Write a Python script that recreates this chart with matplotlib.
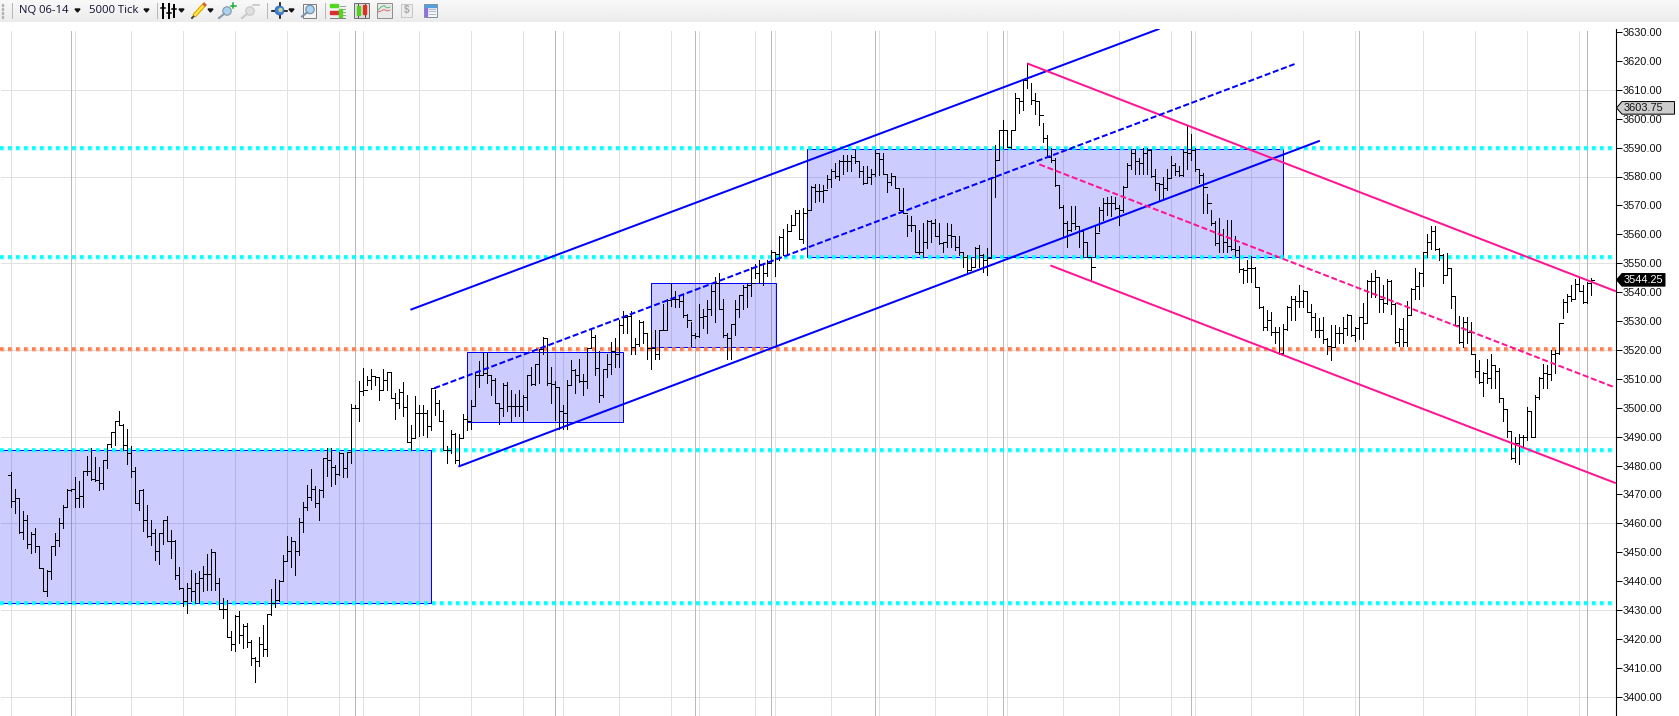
import numpy as np
import matplotlib
matplotlib.use('Agg')
import matplotlib.pyplot as plt
from matplotlib.patches import Rectangle, Polygon, Circle

# bar values, one bar every 4 px, 10 per row
highs = [
    3477.75,3472,3468.75,3464.25,3463,3457,3458.5,3452.25,3444.5,3443.75,
    3452.25,3456.75,3462,3466.25,3471.75,3472,3476,3474.5,3478.25,3483.25,
    3486,3483,3479.5,3482,3487.5,3491.75,3495.25,3498.75,3494.5,3492.75,
    3486.75,3479.5,3471.5,3471.75,3466.25,3461,3458,3456.5,3461,3462.5,
    3457.75,3454.25,3445,3437.5,3439.25,3444,3442.75,3443.5,3445.25,3449.5,
    3451,3450,3441,3434,3433.5,3422.75,3428.25,3429.5,3425.25,3425.5,
    3419.5,3413.75,3420.75,3424.75,3428.75,3437.25,3440.75,3440.5,3449,3455.5,
    3455.25,3454,3462,3467.5,3473.25,3478.75,3472.75,3472,3482.75,3486,
    3486,3480.25,3484.75,3484.25,3484.75,3501.25,3501,3509.25,3513.75,3511,
    3513.25,3511,3510.75,3513.25,3512.5,3512.25,3505,3506.5,3509,3504.5,
    3494,3504,3501,3501,3499.25,3506.75,3506,3502.75,3499.25,3486.75,
    3492.25,3491.25,3491,3497.75,3497,3502.75,3512.5,3516.25,3519,3519,
    3511.25,3510.25,3501.75,3508.5,3508.75,3506.25,3504.75,3506.25,3504.5,3511.25,
    3514.25,3515.25,3520.25,3524.5,3524.25,3514.25,3509.25,3507.25,3501,3509.5,
    3516.5,3513.5,3517,3511.75,3520.5,3526.75,3525,3519.5,3513.5,3518.75,
    3522.75,3524,3530.25,3533.5,3532,3533.5,3524.25,3530.25,3530,3526,
    3526.75,3526.75,3526.75,3536,3537.5,3543,3540.25,3539,3539,3532.5,
    3529.75,3525.75,3536,3534.25,3537.25,3542.5,3545.25,3546.75,3537.75,3525.75,
    3529,3537.25,3539,3542.5,3542.75,3548.75,3549.75,3551.25,3550,3551,
    3554.5,3554,3559.25,3562,3563.5,3566.75,3568.5,3568.5,3569,3569,
    3576.75,3577.5,3577.5,3577,3580.5,3582.75,3584.75,3585.75,3587.5,3587.5,
    3587.5,3589,3585.25,3583.5,3583.5,3582.75,3589,3588,3588.25,3581,
    3581.25,3580.25,3576,3576,3566.75,3566.25,3563.25,3561.5,3563.75,3565,
    3565,3565.25,3563.75,3557.5,3563.75,3563.5,3559.5,3559.25,3554,3552.75,
    3552.25,3555.75,3556.25,3553.25,3555.25,3580,3591,3596.25,3599.5,3596.25,
    3596,3608.75,3607,3613.5,3619.25,3612.5,3608.75,3606,3598.5,3594.5,
    3589.75,3586.25,3577,3570.25,3564.5,3569.75,3569.75,3562.75,3561.75,3557.5,
    3552.25,3562.75,3569.5,3572.5,3573,3573.25,3573,3570.25,3576.75,3584.5,
    3589.5,3589.5,3586.25,3589.75,3589.75,3589.25,3582.5,3577.75,3580,3582.75,
    3587,3584.5,3583.5,3589.25,3597.5,3594.75,3589.75,3582.75,3581.25,3574,
    3568.5,3564.5,3565.5,3561.75,3565,3565,3559.5,3556,3548.5,3551.25,
    3552.5,3548.75,3541.75,3535.25,3533.75,3533.25,3528,3528,3529,3535.25,
    3538.75,3538.75,3542.5,3540.75,3540.25,3536,3532.75,3531,3531.25,3524,
    3528.75,3528.75,3528,3531.25,3532.5,3532,3528,3531.5,3536.25,3544.25,
    3546.75,3547.5,3545.25,3542.5,3544.5,3544.25,3536.25,3527.5,3531,3536.75,
    3541.25,3548.25,3547,3554,3560.25,3562.75,3562.75,3555.25,3553.25,3553.5,
    3548.5,3538.75,3531.75,3531.25,3531.25,3529.5,3518.75,3516.5,3512.25,3516.75,
    3518.5,3514.75,3513.75,3503.25,3499.5,3492,3490,3491,3490.5,3500.25,
    3498.75,3504.5,3510.75,3515.25,3514.75,3520,3520,3529.25,3537.75,3539.5,
    3542.5,3544.5,3544.75,3542.5,3543.5,3544.75,
]
lows = [
    3465.5,3463.5,3456.5,3454.5,3451.5,3449.75,3450,3444.5,3436.5,3434.75,
    3440.75,3449,3452,3458.5,3465.75,3471.25,3465.75,3465.5,3465.5,3476.75,
    3475,3474.75,3471.5,3472,3479,3486.5,3487,3494,3485.5,3480.5,
    3476,3467,3464.5,3457.5,3455.25,3452.5,3447.25,3445.75,3452.75,3453.75,
    3448,3440.75,3437.25,3431.5,3429,3433,3432.5,3432.5,3436.5,3437,
    3436.75,3436.75,3430.25,3427.25,3420.5,3416,3415.75,3418.75,3417,3417.25,
    3411,3405,3410.75,3414,3414,3428.25,3431,3433,3440,3447,
    3445,3442,3449,3457,3464.75,3468,3465.75,3461,3469,3476.5,
    3473,3473.75,3476.75,3476,3476,3481,3499.75,3495.5,3504.25,3507.75,
    3506.5,3507.75,3502.5,3506.25,3506,3503.25,3496.25,3499.75,3497.25,3488,
    3485.5,3490,3490.25,3490.5,3490,3492.25,3497.5,3495.25,3485.5,3481,
    3484.25,3481,3479.75,3490,3492.25,3492.5,3500.5,3507.25,3511.25,3508.5,
    3504.5,3501.5,3494.5,3497,3499,3495.25,3497,3497,3495.25,3499.25,
    3507.75,3507.75,3508.5,3518.75,3507.75,3501.5,3495.75,3492.75,3492.75,3492.75,
    3507.75,3505,3509,3504.5,3506.75,3520.5,3511.25,3502,3503.75,3510.75,
    3511.75,3514.25,3514.25,3526,3525.75,3518.75,3518.75,3521.25,3522.25,3516.75,
    3513.25,3516.75,3516.75,3527,3527,3535.25,3535,3535,3531.5,3528,
    3521.25,3524,3524.5,3527.5,3526,3532,3529.5,3534.25,3524.5,3517,
    3517,3525,3531.5,3534.25,3535,3538.5,3544.75,3543.5,3542.5,3545.5,
    3550,3545.5,3551,3552.75,3552.75,3561,3563.25,3558.5,3557,3566,
    3568.5,3571.25,3571.5,3571.25,3576,3576.5,3579.5,3578.75,3581,3581.75,
    3581.75,3584.5,3580,3577.5,3577.75,3577.5,3580.25,3580.5,3581,3574.5,
    3577,3576,3568.25,3567.25,3559.25,3561,3554,3553.25,3552,3555.25,
    3557.5,3559.25,3556.75,3553.75,3555.75,3555.75,3554.5,3552.75,3548.75,3547,
    3547.75,3548.75,3548.75,3547,3546,3551.75,3573,3585.75,3589.75,3590.25,
    3589.75,3596,3602,3603,3610.5,3605,3601.5,3597.75,3592,3586.75,
    3585,3576.75,3569,3559.25,3555.75,3561,3562,3555.75,3552.25,3552,
    3544.25,3552.25,3561,3565,3566.75,3566.5,3568.75,3563.25,3567.75,3576.5,
    3582.75,3581,3580.75,3580.75,3581,3580,3575.25,3572,3572,3575.25,
    3580,3580.5,3580.25,3580.25,3582.75,3585.75,3581.75,3577.75,3567.5,3567.25,
    3563.25,3556.25,3553.75,3554,3554,3554.5,3552.5,3547,3543.25,3543.5,
    3543.5,3541.75,3534.5,3527,3527,3525.25,3522.5,3518.75,3518.5,3527,
    3530.5,3530.25,3535,3534.75,3533.25,3527,3524.5,3524.5,3522.5,3518.75,
    3516.5,3521.25,3522.5,3522.5,3525.25,3524.75,3523.25,3523.75,3523.75,3529.25,
    3538.25,3538.25,3533,3533.25,3536,3532.5,3522.5,3521.25,3521.25,3521.25,
    3532,3537.75,3537.5,3542,3552.25,3554.75,3554.5,3551,3543.25,3546,
    3534.5,3528.75,3522.5,3521,3522.25,3518.75,3510.75,3508.5,3504,3508.5,
    3506.75,3506.75,3502,3495.25,3490,3482.25,3481.25,3480.5,3486.25,3488.75,
    3489.75,3490,3503,3506.75,3506.75,3509.5,3512,3518.75,3531,3533.25,
    3536.75,3538,3540.25,3536.25,3536.25,3539,
]
closes = [
    3467.75,3468.75,3457,3461,3452.75,3456.25,3452.25,3444.5,3436.5,3443.5,
    3452.25,3454.25,3460.25,3465.5,3471.5,3471.75,3468.75,3469.5,3478.25,3478.25,
    3475.25,3475,3474,3482,3487.5,3491.75,3495.25,3494,3487,3484.25,
    3478,3467,3471.5,3461,3455.5,3456.5,3450.5,3456.5,3461,3453.75,
    3453.75,3442.25,3437.5,3433,3437.75,3436.5,3439.5,3441,3442.5,3442.5,
    3450,3439.5,3430.5,3430.25,3420.5,3418.25,3428,3421.5,3424.5,3419,
    3413.25,3412.25,3418.25,3416.5,3428.75,3432.25,3433.5,3440,3447,3450.5,
    3453.75,3450.5,3460.5,3465.5,3469,3472,3467,3471.5,3482.75,3482,
    3479.5,3477,3484.25,3479,3484.75,3500,3499.75,3505.75,3506.25,3509.75,
    3511,3510.5,3506,3509.5,3512.25,3503.5,3501.75,3505.5,3500.25,3488.25,
    3489.5,3498.25,3498.25,3498.25,3493.5,3506.75,3501.5,3495.5,3485.5,3485.5,
    3491,3481.75,3489.5,3496.25,3495.25,3500.5,3511.25,3511.25,3512,3511.25,
    3509.75,3501.75,3499.75,3507.75,3500.75,3500.75,3500.75,3500.5,3503.75,3511.25,
    3508.25,3515.25,3520.25,3524,3508.5,3508.25,3507.25,3498.75,3498,3507.75,
    3513,3511.25,3509.25,3509.25,3520.5,3524.5,3513.75,3504.5,3513.5,3515.25,
    3519.5,3518.75,3528.5,3531.5,3531.75,3521,3522,3529.75,3526,3520.5,
    3520.5,3518.75,3526.75,3527,3537.25,3537.75,3537.5,3536.75,3532,3530.25,
    3525.25,3524.75,3531.5,3531.75,3534.25,3540.25,3543,3534.25,3525,3524,
    3529,3534.25,3539,3541.75,3542.5,3543,3546.5,3549.75,3546.5,3550,
    3554,3553.25,3559,3553,3561,3563.25,3567.25,3558.5,3567.25,3568.5,
    3576.25,3575,3575,3575.25,3579,3581.75,3580.25,3585.5,3585.5,3585.25,
    3586.75,3585.25,3581.75,3577.75,3580,3581,3588.25,3586,3581,3578.25,
    3580.25,3576,3568.5,3567.5,3563.25,3563.25,3554,3554,3557.5,3564.5,
    3563.75,3559.25,3557,3557.25,3559.75,3559.25,3555.75,3554,3552.25,3547.75,
    3548.75,3555.25,3552.75,3551.25,3551.75,3580,3585.75,3596,3596,3590.25,
    3596,3607,3606,3613.5,3614.5,3606.5,3606,3601.25,3593.25,3586.75,
    3585.75,3577,3569.5,3564,3561.5,3563.75,3562.75,3561,3557.5,3552,
    3548.75,3560.5,3568.5,3570.75,3571,3570.75,3569,3568.5,3576.5,3584,
    3588,3585.25,3584.5,3588,3589.25,3580.25,3577.75,3577.5,3576,3579.5,
    3584,3581.75,3580.5,3588.5,3588,3589.25,3582.75,3580.5,3576.5,3570.75,
    3563.75,3557,3559.75,3557.5,3556,3554.75,3554.5,3548,3547.75,3548.25,
    3548.5,3541.75,3535,3528,3530.25,3526.25,3526.25,3519,3527.25,3535,
    3537.5,3537,3537,3540.25,3533.25,3531.25,3527,3527,3523.75,3521.25,
    3521,3526,3526,3527.5,3532,3525.25,3527.75,3531.25,3529.25,3544,
    3544,3545.25,3537.75,3536.25,3544,3536,3522.75,3527.25,3522.75,3532,
    3541,3542,3546.75,3553.75,3557.5,3561,3554.75,3552.75,3546,3548.5,
    3538.5,3528.75,3522.75,3529.75,3526.25,3518.75,3512.75,3508.75,3512,3510.25,
    3514.75,3512.75,3503.25,3499.5,3492,3482.75,3487.75,3490,3490,3499,
    3490,3503.75,3510.25,3512,3511.75,3518.75,3519,3529.25,3536.5,3538.75,
    3537.75,3542.75,3540.25,3536.5,3543,3544.25,
]
first_open = 3476.75

price_ticks = list(range(3400, 3631, 10))
grid_prices = [3400, 3430, 3460, 3490, 3520, 3550, 3580, 3610]
light_grid = [0, 16, 30, 43, 56, 69, 82, 88, 102, 115, 128, 138, 152, 165, 172, 186,
              191, 205, 217, 231, 244, 249, 263, 277, 290, 296, 310, 323, 336, 353,
              366, 379, 392]
dark_grid = [15, 86, 136, 171, 190, 216, 248, 295, 337, 394]

cyan_levels = [3589.75, 3552, 3485.25, 3432.25]
orange_levels = [3520.25]

# start bar, end bar, low price, high price
box_start = [-3, 114, 160, 199]
box_end = [105, 153, 191.25, 318]
box_low = [3432.25, 3495, 3521, 3552]
box_high = [3485.5, 3519.25, 3543, 3589.5]

# start bar, end bar, start price, end price
blue_lines = [(100, 286.8, 3534, 3631), (112, 326.9, 3479.75, 3592.25)]
blue_dashed = (105.75, 320.8, 3506.75, 3618.9)
pink_lines = [(254.2, 400.9, 3619, 3540.4), (260, 400.9, 3549.1, 3474)]
pink_dashed = (257, 400.9, 3584.2, 3507)

last_price = 3544.25
other_price = 3603.75

W, H = 1679, 716
PX = 72 / 100  # points per pixel
plt.rcParams['lines.scale_dashes'] = False
plt.rcParams['font.family'] = ['Liberation Sans', 'DejaVu Sans']

fig = plt.figure(figsize=(W / 100, H / 100), dpi=100, facecolor='white')
ax = fig.add_axes([0, 0, 1615.5 / W, (H - 29) / H])
ax.set_xlim((0 - 11.33) / 4, (1615.5 - 11.33) / 4)
ax.set_ylim(3630 - (716 - 32) / 2.89, 3630 + 3 / 2.89)
ymin, ymax = ax.get_ylim()

# grid
grid_top = 3630.35
ax.vlines(light_grid, ymin, grid_top, color='#E1E1E1', lw=PX, zorder=1, antialiased=False)
ax.vlines(dark_grid, ymin, grid_top, color='#B9B9B9', lw=PX, zorder=1.1, antialiased=False)
ax.hlines(grid_prices, -2.5, 400.9, color='#E1E1E1', lw=PX, zorder=1, antialiased=False)

# zones
for x0, x1, y0, y1 in zip(box_start, box_end, box_low, box_high):
    ax.add_patch(Rectangle((x0, y0), x1 - x0, y1 - y0, facecolor=(0, 0, 1, 0.2), edgecolor='none', zorder=2))
    ax.add_patch(Rectangle((x0, y0), x1 - x0, y1 - y0, facecolor='none', edgecolor='#0000FF', lw=PX, zorder=2.1))


def dotted(levels, color):
    x0, x1 = ax.get_xlim()
    x1 = 400.1
    for lev in levels:
        ax.plot([x0, x1], [lev, lev], color=color, lw=4.6 * PX, alpha=0.35, zorder=3,
                linestyle=(0.5 * PX, (4.6 * PX, 3.4 * PX)), dash_capstyle='butt')
        ax.plot([x0, x1], [lev, lev], color=color, lw=3.5 * PX, zorder=3.1,
                linestyle=(0, (3.5 * PX, 4.5 * PX)), dash_capstyle='butt')


dotted(cyan_levels, '#00FFFF')
dotted(orange_levels, '#FF7F50')

# price bars
bars = np.arange(len(highs))
opens = [first_open] + closes[:-1]
ax.vlines(bars, lows, highs, color='black', lw=PX, zorder=4, antialiased=False)
ax.hlines(opens, bars - 0.75, bars, color='black', lw=PX, zorder=4, antialiased=False)
ax.hlines(closes, bars, bars + 0.75, color='black', lw=PX, zorder=4, antialiased=False)

# channels
for x0, x1, y0, y1 in blue_lines:
    ax.plot([x0, x1], [y0, y1], color='#0000FF', lw=2 * PX, zorder=5)
for x0, x1, y0, y1 in pink_lines:
    ax.plot([x0, x1], [y0, y1], color='#FF1493', lw=2 * PX, zorder=5)
x0, x1, y0, y1 = blue_dashed
ax.plot([x0, x1], [y0, y1], color='#0000FF', lw=2 * PX, zorder=5, dash_capstyle='butt',
        linestyle=(0, (6 * PX, 2.7 * PX)))
x0, x1, y0, y1 = pink_dashed
ax.plot([x0, x1], [y0, y1], color='#FF1493', lw=2 * PX, zorder=5, dash_capstyle='butt',
        linestyle=(0, (6 * PX, 2.7 * PX)))

# price axis
for side in ['top', 'left', 'bottom']:
    ax.spines[side].set_visible(False)
ax.spines['right'].set_linewidth(1.1 * PX)
ax.set_xticks([])
ax.yaxis.tick_right()
ax.set_yticks(price_ticks)
ax.set_yticklabels([f'{p:.2f}' for p in price_ticks])
ax.tick_params(axis='y', length=6 * PX, width=PX, pad=1.5 * PX, labelsize=7.9, labelcolor='#111111')

# toolbar and price tags, in pixel coordinates of the window
ui = fig.add_axes([0, 0, 1, 1], zorder=10)
ui.patch.set_alpha(0)
ui.axis('off')
shade = np.linspace(0.975, 0.925, 22).reshape(-1, 1)
ui.imshow(shade, extent=(0, W, 22.5, 0), cmap='gray', vmin=0, vmax=1, aspect='auto', zorder=1)
ui.set_xlim(0, W)
ui.set_ylim(H, 0)


def py(p):
    return 32 + (3630 - p) * 2.89


def tag(price, right, face, text_color, weight='normal'):
    y = py(price)
    ui.add_patch(Polygon([(1616.5, y), (1622, y - 6.3), (right, y - 6.3), (right, y + 6.3), (1622, y + 6.3)],
                         facecolor=face, edgecolor='black', lw=PX, zorder=3))
    ui.text(1624, y + 0.3, f'{price:.2f}', color=text_color, fontsize=7.9, va='center', ha='left', zorder=4, fontweight=weight)


tag(other_price, 1674.5, '#CDCDCD', '#111111')
tag(last_price, 1665, 'black', 'white')

# toolbar text
ui.text(19, 10.5, 'NQ 06-14', fontsize=8.1, family=['Open Sans', 'DejaVu Sans'], va='center', color='#101030', zorder=3)
ui.text(89, 10.5, '5000 Tick', fontsize=8.1, family=['Open Sans', 'DejaVu Sans'], va='center', color='#101030', zorder=3)

for sx in [11.5, 156.5, 266.5, 324.5]:
    ui.plot([sx, sx], [3, 18], color='#B8B8B8', lw=PX, zorder=3)
for gy in [4, 8, 12, 16]:
    ui.add_patch(Rectangle((1.5, gy), 1.6, 1.6, color='#B4B4B4', zorder=3))
for tx in [77.5, 146.5, 181.5, 210.5, 291.5]:
    ui.add_patch(Polygon([(tx - 2.5, 9), (tx + 2.5, 9), (tx, 12)], color='#111111', zorder=3))

# bars icon
for bx, ty, by, ky in [(163, 4, 18, 8), (168.5, 4, 18, 13), (174, 5, 17, 9)]:
    ui.plot([bx, bx], [ty, by], color='black', lw=2 * PX, zorder=3)
    ui.plot([bx - 2, bx + 2], [ky, ky], color='black', lw=1.5 * PX, zorder=3)
# pencil
ui.plot([194, 204], [16, 5], color='#E0A800', lw=4.5 * PX, zorder=3, solid_capstyle='butt')
ui.plot([194, 204], [16, 5], color='#FFE84A', lw=2.2 * PX, zorder=3, solid_capstyle='butt')
ui.plot([203.5, 205.5], [5.5, 3.5], color='#D06030', lw=4 * PX, zorder=3, solid_capstyle='butt')
ui.plot([192, 193.5], [18, 16.5], color='#444444', lw=2 * PX, zorder=3)


def glass(cx, cy, edge, fill):
    ui.add_patch(Circle((cx, cy), 4.2, facecolor=fill, edgecolor=edge, lw=1.2 * PX, zorder=3))
    ui.plot([cx - 3, cx - 8], [cy + 3, cy + 7], color=edge, lw=2 * PX, zorder=3)


# zoom in / zoom out
glass(227, 11, '#8899AA', '#A8D4F0')
ui.plot([233, 233], [3, 8], color='#10B030', lw=1.5 * PX, zorder=3)
ui.plot([230.5, 235.5], [5.5, 5.5], color='#10B030', lw=1.5 * PX, zorder=3)
glass(250, 11, '#C8C8C8', '#E0E0E0')
ui.plot([253, 259], [5, 5], color='#C0C0C0', lw=1.5 * PX, zorder=3)
# crosshair globe
ui.plot([272, 287], [10.5, 10.5], color='black', lw=1.6 * PX, zorder=3)
ui.plot([279.5, 279.5], [3, 18], color='black', lw=1.6 * PX, zorder=3)
ui.add_patch(Circle((279.5, 10.5), 4.6, facecolor='#3E82D8', edgecolor='#2A5AA0', lw=0.6 * PX, zorder=3.1))
ui.add_patch(Circle((280.5, 10), 2.2, facecolor='#C8D890', edgecolor='none', zorder=3.2))
# zoom box
ui.add_patch(Rectangle((303, 3.5), 12.5, 14, facecolor='#F4F4F4', edgecolor='#808080', lw=PX, zorder=3))
glass(310, 9.5, '#7890A8', '#A8D4F0')
# strategy bars icon
ui.add_patch(Rectangle((330, 3.5), 8, 3, color='#50D820', zorder=3))
ui.add_patch(Rectangle((330, 11), 8, 3, color='#D83030', zorder=3))
ui.add_patch(Rectangle((339, 9), 2.5, 8, color='#50D820', zorder=3))
ui.plot([330, 345], [17.5, 17.5], color='#808080', lw=PX, zorder=3)
for ly in [6, 9, 12, 15]:
    ui.plot([340, 345], [ly, ly], color='#A0A0A0', lw=PX, zorder=2.9)
# candles icon
ui.add_patch(Rectangle((353.5, 3), 15, 14.5, facecolor='#DDDDDD', edgecolor='#707070', lw=PX, zorder=3))
ui.add_patch(Rectangle((356.5, 6), 3, 9, color='#50D020', zorder=3.1))
ui.add_patch(Rectangle((363, 5), 3, 9, color='#E03020', zorder=3.1))
ui.plot([358, 358], [4, 17], color='black', lw=0.7 * PX, zorder=3.05)
ui.plot([364.5, 364.5], [4, 17], color='black', lw=0.7 * PX, zorder=3.05)
# indicator icon
ui.add_patch(Rectangle((376.5, 3), 15, 14.5, facecolor='#E8E8E8', edgecolor='#909090', lw=PX, zorder=3))
ui.plot([378, 381, 384, 387, 390], [10, 7, 5.5, 8, 7], color='#40B060', lw=0.8 * PX, zorder=3.1)
ui.plot([378, 381, 384, 387, 390], [12, 11, 9.5, 11, 10], color='#E05050', lw=0.8 * PX, zorder=3.1)
# dollar icon
ui.add_patch(Rectangle((401, 4), 11, 13, facecolor='#EDEDED', edgecolor='#C8C8C8', lw=PX, zorder=3))
ui.text(406.5, 10.5, '$', fontsize=7, fontweight='bold', color='#A8A8A8', ha='center', va='center', zorder=3.1)
# properties icon
ui.add_patch(Rectangle((423.5, 3.5), 13, 13.5, facecolor='#F6F6F6', edgecolor='#8090A0', lw=PX, zorder=3))
ui.add_patch(Rectangle((424.5, 4.5), 11, 2, color='#50A0E0', zorder=3.1))
ui.add_patch(Rectangle((424.5, 7.5), 2.5, 8.5, color='#9070E0', zorder=3.1))
for ly in [8.5, 11, 13.5]:
    ui.plot([428.5, 435], [ly, ly], color='#B0B8C0', lw=PX, zorder=3.1)

fig.savefig('out.png', dpi=100)
